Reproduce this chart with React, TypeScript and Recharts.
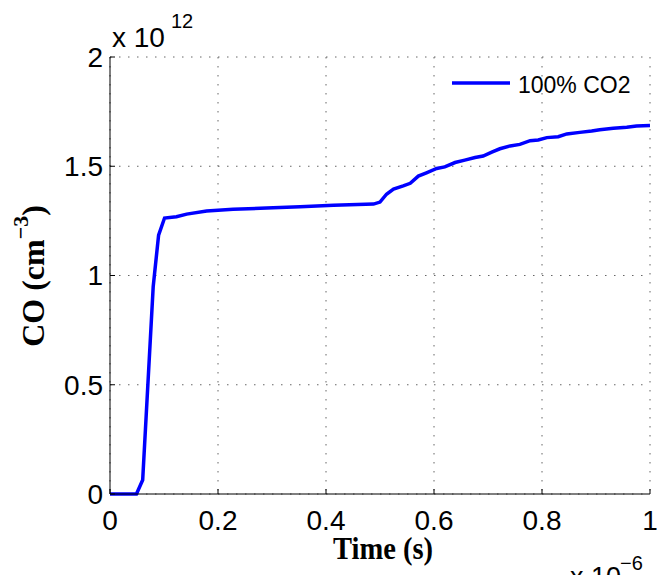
import React from "react";
import { LineChart, Line, XAxis, YAxis, CartesianGrid, Legend } from "recharts";

// time in units of 1e-6 s, CO density in units of 1e12 cm^-3
const timeUs = [
  0, 0.049, 0.0605, 0.08, 0.09, 0.101, 0.123, 0.142, 0.179, 0.228, 0.29, 0.352,
  0.414, 0.488, 0.5, 0.512, 0.525, 0.543, 0.556, 0.571, 0.586, 0.605, 0.62, 0.639,
  0.657, 0.676, 0.691, 0.707, 0.722, 0.741, 0.759, 0.778, 0.793, 0.809, 0.83, 0.846,
  0.87, 0.892, 0.907, 0.932, 0.957, 0.975, 1.0,
];
const co1e12 = [
  0, 0, 0.064, 0.949, 1.185, 1.263, 1.269, 1.281, 1.295, 1.303, 1.309, 1.315,
  1.321, 1.327, 1.336, 1.372, 1.395, 1.41, 1.422, 1.455, 1.47, 1.49, 1.497, 1.517,
  1.528, 1.54, 1.547, 1.565, 1.58, 1.593, 1.6, 1.617, 1.62, 1.631, 1.635, 1.648,
  1.655, 1.661, 1.667, 1.674, 1.678, 1.684, 1.686,
];
const xTicks = [0, 0.2, 0.4, 0.6, 0.8, 1];
const yTicks = [0, 0.5, 1, 1.5, 2];
const seriesName = "100% CO2";
const seriesColor = "#0000ff";

const data = timeUs.map((t, i) => ({ t, co: co1e12[i] }));

const tickFont = { fill: "#000", fontSize: 28, fontFamily: "Liberation Sans, Arial, sans-serif" };
const fmt = (v: number) => String(v);

const LegendContent = () => (
  <svg width={200} height={30} style={{ overflow: "visible" }}>
    <line x1={0} x2={58} y1={13} y2={13} stroke={seriesColor} strokeWidth={3.5} />
    <text x={66} y={22.5} fontSize={23} fontFamily="Liberation Sans, Arial, sans-serif" fill="#000">
      {seriesName}
    </text>
  </svg>
);

export default function App() {
  return (
    <div style={{ position: "absolute", left: 0, top: 0, width: 657, height: 575, background: "#fff" }}>
      <LineChart
        width={657}
        height={575}
        data={data}
        margin={{ top: 57, right: 7, bottom: 0, left: 0 }}
      >
        <CartesianGrid
          stroke="#666"
          strokeDasharray="1.5 7.5"
          verticalValues={xTicks}
          horizontalValues={yTicks}
        />
        <XAxis
          dataKey="t"
          type="number"
          domain={[0, 1]}
          ticks={xTicks}
          tickFormatter={fmt}
          height={81}
          tickSize={-5}
          tickMargin={21}
          tick={tickFont}
          axisLine={{ stroke: "#000", strokeWidth: 1 }}
          tickLine={{ stroke: "#000" }}
          interval={0}
        />
        <XAxis
          xAxisId="top"
          orientation="top"
          dataKey="t"
          type="number"
          domain={[0, 1]}
          ticks={xTicks}
          height={0}
          tickSize={-5}
          tick={false}
          axisLine={{ stroke: "#000", strokeWidth: 1 }}
          tickLine={{ stroke: "#000" }}
        />
        <YAxis
          type="number"
          domain={[0, 2]}
          ticks={yTicks}
          tickFormatter={fmt}
          width={110}
          tickSize={-5}
          tickMargin={12}
          tick={tickFont}
          axisLine={{ stroke: "#000", strokeWidth: 1 }}
          tickLine={{ stroke: "#000" }}
          interval={0}
        />
        <YAxis
          yAxisId="right"
          orientation="right"
          type="number"
          domain={[0, 2]}
          ticks={yTicks}
          width={0}
          tickSize={-5}
          tick={false}
          axisLine={{ stroke: "#000", strokeWidth: 1 }}
          tickLine={{ stroke: "#000" }}
        />
        <Legend
          layout="vertical"
          align="center"
          verticalAlign="middle"
          content={<LegendContent />}
          wrapperStyle={{ left: 452, top: 70, width: 200, height: 30 }}
        />
        <Line
          type="linear"
          dataKey="co"
          name={seriesName}
          stroke={seriesColor}
          strokeWidth={3.5}
          dot={false}
          activeDot={false}
          isAnimationActive={false}
        />
      </LineChart>
      <svg
        width={657}
        height={575}
        style={{ position: "absolute", left: 0, top: 0, pointerEvents: "none" }}
      >
        <text x={112} y={47} fontSize={28} fontFamily="Liberation Sans, Arial, sans-serif" fill="#000">
          x 10
        </text>
        <text x={171} y={28} fontSize={20} fontFamily="Liberation Sans, Arial, sans-serif" fill="#000">
          12
        </text>
        <text x={570} y={586} fontSize={27} fontFamily="Liberation Sans, Arial, sans-serif" fill="#000">
          x 10
        </text>
        <text x={620} y={570} fontSize={20} fontFamily="Liberation Sans, Arial, sans-serif" fill="#000">
          −6
        </text>
        <text
          x={383}
          y={559}
          fontSize={32}
          fontWeight="bold"
          fontFamily="Liberation Serif, Times New Roman, serif"
          textAnchor="middle"
          fill="#000"
          textLength={100}
          lengthAdjust="spacingAndGlyphs"
        >
          Time (s)
        </text>
        <text
          transform="translate(44,276) rotate(-90)"
          x={0}
          y={0}
          fontSize={32}
          fontWeight="bold"
          fontFamily="Liberation Serif, Times New Roman, serif"
          textAnchor="middle"
          fill="#000"
        >
          <tspan>CO (cm</tspan>
          <tspan dy={-16} fontSize={22}>−3</tspan>
          <tspan dy={16}>)</tspan>
        </text>
      </svg>
    </div>
  );
}
